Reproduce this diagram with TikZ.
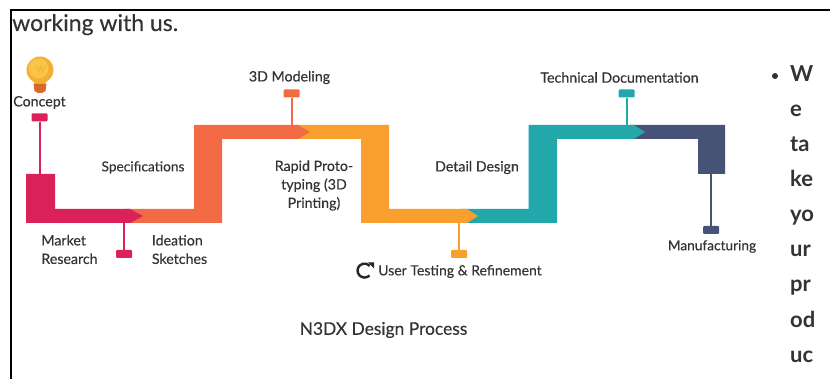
\documentclass[tikz,border=0pt]{standalone}
\usepackage{fontspec}
\setmainfont{Lato}
\newfontfamily\lblfont[FakeBold=0.25]{Lato}
\usetikzlibrary{shapes.geometric}
\definecolor{cpink}{HTML}{DB2159}
\definecolor{ccoral}{HTML}{F26B45}
\definecolor{camber}{HTML}{F99F2D}
\definecolor{cteal}{HTML}{22A7AA}
\definecolor{cnavy}{HTML}{465377}
\definecolor{ctext}{HTML}{333333}
\definecolor{bulbout}{HTML}{F2B035}
\definecolor{bulbin}{HTML}{F8C548}
\definecolor{bulbbase}{HTML}{D9692A}
\tikzset{
  lbl/.style={font=\lblfont\fontsize{14.2}{18.5}\selectfont, text=ctext, inner sep=0pt, align=center},
  lblsm/.style={lbl, font=\lblfont\fontsize{13.7}{18.5}\selectfont},
  pagetext/.style={font=\lblfont\fontsize{23}{24}\selectfont, text=ctext, inner sep=0pt, anchor=base west},
  mark box/.style={draw=none, rounded corners=1pt, minimum width=16pt, minimum height=8pt, inner sep=0pt, fill=#1},
  stem/.style={line width=2pt, draw=#1},
}
\begin{document}
\begin{tikzpicture}[x=1pt,y=-1pt]
\useasboundingbox (0,0) rectangle (830,379);
\fill[white] (0,0) rectangle (830,379);
\draw[black,line width=2pt] (10.5,379) -- (10.5,10) -- (830,10);
\node[pagetext] (intro) at (12,31) {working with us.};
% stems under the band
\node[mark box=cpink] (m1) at (39.5,117.5) {};
\node[mark box=cpink] (m2) at (124,254) {};
\node[mark box=ccoral] (m3) at (291.5,93.5) {};
\node[mark box=camber] (m4) at (459,254) {};
\node[mark box=cteal] (m5) at (626.5,93.5) {};
\node[mark box=cnavy] (m6) at (711,230) {};
\coordinate (c1) at (39.5,175);
\coordinate (c2) at (124,222);
\coordinate (c3) at (291.5,126);
\coordinate (c4) at (459,222);
\coordinate (c5) at (626.5,126);
\coordinate (c6) at (711,173);
\draw[stem=cpink] (m1) -- (c1);
\draw[stem=cpink] (m2) -- (c2);
\draw[stem=ccoral] (m3) -- (c3);
\draw[stem=camber] (m4) -- (c4);
\draw[stem=cteal] (m5) -- (c5);
\draw[stem=cnavy] (m6) -- (c6);
% band, last piece first so each arrow tip overlaps the next
\fill[cnavy] (630,125) -- (725,125) -- (725,174) -- (698,174) -- (698,139) -- (630,139) -- cycle;
\fill[cteal] (460,209) -- (528.5,209) -- (528.5,125) -- (634,125) -- (645,132) -- (634,139) -- (557,139) -- (557,223) -- (460,223) -- cycle;
\fill[camber] (295,125) -- (389,125) -- (389,209) -- (467,209) -- (478,216) -- (467,223) -- (361,223) -- (361,139) -- (295,139) -- cycle;
\fill[ccoral] (125,209) -- (194,209) -- (194,125) -- (298,125) -- (310,132) -- (298,139) -- (222,139) -- (222,223) -- (125,223) -- cycle;
\fill[cpink] (26,174) -- (55,174) -- (55,209) -- (130,209) -- (143,216) -- (130,223) -- (26,223) -- cycle;
% bulb
\fill[bulbout] (40,70) circle (13.5);
\fill[bulbout] (33,78) -- (47,78) -- (45,86) -- (35,86) -- cycle;
\fill[bulbin] (38.5,68.5) circle (10);
\draw[bulbout,line width=.7pt] (36,66) -- (38.5,72) -- (40.5,66) -- (42.5,72) -- (45,66);
\fill[bulbbase] (33.5,84) -- (46.5,84) -- (45.5,91) -- (42,93) -- (38,93) -- (34.5,91) -- cycle;
% labels
\node[lbl] (concept) at (39.5,102.5) {Concept};
\node[lbl,align=left] (market) at (69.5,249.5) {Market\\Research};
\node[lbl,align=left] (ideation) at (179.5,249.5) {Ideation\\Sketches};
\node[lblsm] (spec) at (143,167.5) {Specifications};
\node[lbl] (model) at (289.5,77.5) {3D Modeling};
\node[lbl] (rapid) at (314,185.5) {Rapid Proto-\\typing (3D\\Printing)};
\node[lbl] (detail) at (477,167.5) {Detail Design};
\node[lbl,font=\lblfont\fontsize{14}{18}\selectfont] (testing) at (460,271.5) {User Testing \& Refinement};
\node[lbl] (techdoc) at (619.5,77.5) {Technical Documentation};
\node[lblsm] (manu) at (712,246.5) {Manufacturing};
\node[lbl,font=\lblfont\fontsize{17.4}{18}\selectfont] (caption) at (383.5,330) {N3DX Design Process};
% refresh icon
\draw[line width=2.4pt,black!85] (369.5,275.5) arc (45:318:7);
\fill[black!85] (368,262.5) -- (374,262.5) -- (374,268.5) -- cycle;
% right column
\fill[ctext] (775,76) circle (3);
\foreach \t/\y/\n in {W/82/a,e/117/b,ta/152/c,ke/187/d,yo/222/e,ur/257/f,pr/292/g,od/327/h,uc/362/i}{
  \node[pagetext,font=\bfseries\fontsize{22}{22}\selectfont] (col\n) at (790,\y) {\t};
}
\end{tikzpicture}
\end{document}
